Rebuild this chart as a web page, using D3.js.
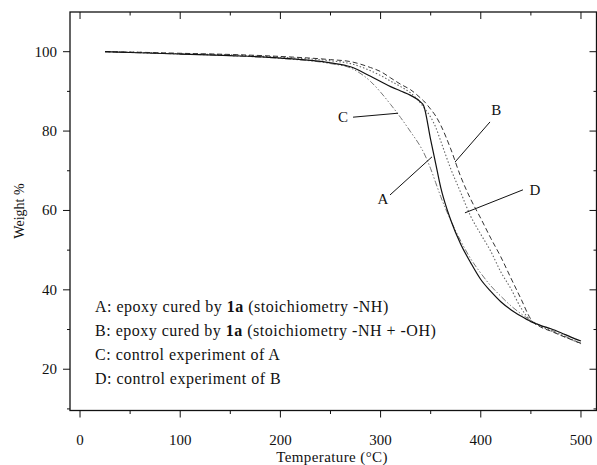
<!DOCTYPE html>
<html lang="en">
<head>
    <meta charset="UTF-8">
    <title>TGA curves</title>
    <script src="https://d3js.org/d3.v7.min.js"></script>
    <style>
        body { margin: 0; background: #fff; }
        text { font-family: "Liberation Serif", "DejaVu Serif", serif; fill: #111; }
    </style>
</head>
<body>
    <script>
        //SVG dimensions
        var w = 597;
        var h = 465;

        //Temperatures (deg C) shared by all four curves
        var temps = [25, 50, 100, 150, 200, 250, 270, 290, 300, 310, 320, 330, 340, 343, 350, 355, 360, 370, 380, 390, 400, 410, 420, 430, 440, 450, 460, 470, 480, 490, 500];

        //Weight % for each sample
        var seriesA = [100, 99.8, 99.4, 99.0, 98.4, 97.2, 96.2, 93.8, 92.5, 91.2, 90.1, 89.0, 87.3, 86.4, 77.8, 71.8, 65.8, 57.6, 51.5, 46.8, 42.6, 39.6, 37.0, 35.0, 33.4, 32.0, 31.0, 30.2, 29.2, 28.1, 27.1];
        var seriesB = [100, 99.9, 99.6, 99.3, 98.8, 98.0, 97.5, 96.0, 95.0, 93.4, 91.8, 90.4, 88.3, 87.6, 85.5, 83.8, 81.5, 75.5, 68.5, 62.8, 58.0, 53.0, 48.3, 43.0, 37.8, 32.6, 30.6, 29.6, 28.5, 27.5, 26.5];
        var seriesC = [100, 99.8, 99.4, 99.0, 98.3, 97.0, 95.9, 92.5, 89.8, 86.7, 83.4, 79.8, 76.0, 74.6, 70.5, 67.0, 63.5, 57.5, 52.3, 47.8, 44.2, 41.0, 38.4, 36.0, 34.0, 32.3, 31.0, 29.9, 28.8, 27.6, 26.6];
        var seriesD = [100, 99.9, 99.5, 99.2, 98.6, 97.7, 97.0, 95.2, 94.0, 92.6, 91.2, 89.6, 87.0, 86.0, 83.5, 81.0, 77.5, 70.5, 64.5, 58.5, 54.0, 49.7, 44.5, 40.3, 35.5, 32.2, 30.8, 29.7, 28.6, 27.5, 26.4];

        //Axis ticks
        var xMajor = [0, 100, 200, 300, 400, 500];
        var xMinor = [50, 150, 250, 350, 450];
        var yMajor = [20, 40, 60, 80, 100];
        var yMinor = [10, 30, 50, 70, 90];

        //Curve labels and their leader lines, in data units [temp, weight]
        var labelNames = ["A", "B", "C", "D"];
        var labelPos = [[302.4, 62.9], [415.4, 85.3], [262.5, 83.5], [454.1, 65.2]];
        var leaderFrom = [[309.4, 63.9], [409.2, 82.3], [272.5, 83.5], [442.1, 65.2]];
        var leaderTo = [[351.3, 73.5], [374.3, 72.2], [317.4, 84.5], [384.2, 59.4]];

        //Legend lines
        var legendKeys = ["A: ", "B: ", "C: ", "D: "];
        var legendText = [
            ["epoxy cured by ", "1a", " (stoichiometry -NH)"],
            ["epoxy cured by ", "1a", " (stoichiometry -NH + -OH)"],
            ["control experiment of A"],
            ["control experiment of B"]
        ];

        var svg = d3.select("body")
            .append("svg")
            .attr("width", w)
            .attr("height", h);

        //Plot frame edges
        var plotLeft = 70, plotRight = 596.5, plotTop = 12, plotBottom = 410.5;

        var xScale = d3.scaleLinear()
            .domain([-10, 515.5])
            .range([plotLeft, plotRight]);

        var yScale = d3.scaleLinear()
            .domain([9.6, 110])
            .range([plotBottom, plotTop]);

        //Frame
        svg.append("rect")
            .attr("x", plotLeft)
            .attr("y", plotTop)
            .attr("width", plotRight - plotLeft)
            .attr("height", plotBottom - plotTop)
            .attr("fill", "none")
            .attr("stroke", "#111")
            .attr("stroke-width", 1.3);

        //Bottom axis: ticks point out, top: ticks point in
        function xTicks(vals, len) {
            svg.append("g").selectAll("line")
                .data(vals).enter().append("line")
                .attr("x1", function(d) { return xScale(d); })
                .attr("x2", function(d) { return xScale(d); })
                .attr("y1", plotBottom)
                .attr("y2", plotBottom + len)
                .attr("stroke", "#111");
            svg.append("g").selectAll("line")
                .data(vals).enter().append("line")
                .attr("x1", function(d) { return xScale(d); })
                .attr("x2", function(d) { return xScale(d); })
                .attr("y1", plotTop)
                .attr("y2", plotTop + len)
                .attr("stroke", "#111");
        }
        xTicks(xMajor, 7);
        xTicks(xMinor, 3.5);

        //Left axis: ticks point out, right: ticks point in
        function yTicks(vals, len) {
            svg.append("g").selectAll("line")
                .data(vals).enter().append("line")
                .attr("x1", plotLeft - len)
                .attr("x2", plotLeft)
                .attr("y1", function(d) { return yScale(d); })
                .attr("y2", function(d) { return yScale(d); })
                .attr("stroke", "#111");
            svg.append("g").selectAll("line")
                .data(vals).enter().append("line")
                .attr("x1", plotRight - len)
                .attr("x2", plotRight)
                .attr("y1", function(d) { return yScale(d); })
                .attr("y2", function(d) { return yScale(d); })
                .attr("stroke", "#111");
        }
        yTicks(yMajor, 7);
        yTicks(yMinor, 3);

        //Tick labels
        svg.append("g").selectAll("text")
            .data(xMajor).enter().append("text")
            .attr("x", function(d) { return xScale(d); })
            .attr("y", 445)
            .attr("text-anchor", "middle")
            .style("font-size", "15px")
            .text(function(d) { return d; });

        svg.append("g").selectAll("text")
            .data(yMajor).enter().append("text")
            .attr("x", 57)
            .attr("y", function(d) { return yScale(d) + 5; })
            .attr("text-anchor", "end")
            .style("font-size", "15px")
            .text(function(d) { return d; });

        //Axis titles
        svg.append("text")
            .attr("x", 332)
            .attr("y", 462)
            .attr("text-anchor", "middle")
            .style("font-size", "15px")
            .style("letter-spacing", "0.4px")
            .text("Temperature (°C)");

        svg.append("text")
            .attr("transform", "translate(24,211) rotate(-90)")
            .attr("text-anchor", "middle")
            .style("font-size", "14px")
            .text("Weight %");

        //Curves
        var line = d3.line()
            .x(function(d, i) { return xScale(temps[i]); })
            .y(function(d) { return yScale(d); })
            .curve(d3.curveMonotoneX);

        var curves = [
            { values: seriesC, color: "#777", dash: "6,2,1.5,2,1.5,2", width: 1 },
            { values: seriesD, color: "#666", dash: "1.5,2", width: 1.1 },
            { values: seriesB, color: "#333", dash: "5,3", width: 1 },
            { values: seriesA, color: "#111", dash: null, width: 1.2 }
        ];

        svg.selectAll("path.curve")
            .data(curves).enter().append("path")
            .attr("class", "curve")
            .attr("d", function(d) { return line(d.values); })
            .attr("fill", "none")
            .attr("stroke", function(d) { return d.color; })
            .attr("stroke-width", function(d) { return d.width; })
            .attr("stroke-dasharray", function(d) { return d.dash; });

        //Leader lines and curve letters
        svg.append("g").selectAll("line")
            .data(leaderFrom).enter().append("line")
            .attr("x1", function(d) { return xScale(d[0]); })
            .attr("y1", function(d) { return yScale(d[1]); })
            .attr("x2", function(d, i) { return xScale(leaderTo[i][0]); })
            .attr("y2", function(d, i) { return yScale(leaderTo[i][1]); })
            .attr("stroke", "#111")
            .attr("stroke-width", 1);

        svg.append("g").selectAll("text")
            .data(labelPos).enter().append("text")
            .attr("x", function(d) { return xScale(d[0]); })
            .attr("y", function(d) { return yScale(d[1]) + 5; })
            .attr("text-anchor", "middle")
            .style("font-size", "15px")
            .text(function(d, i) { return labelNames[i]; });

        //Legend
        var legend = svg.append("g").selectAll("text")
            .data(legendText).enter().append("text")
            .attr("x", 95)
            .attr("y", function(d, i) { return 312 + i * 24; })
            .style("font-size", "16px")
            .style("letter-spacing", "0.5px");

        legend.append("tspan")
            .text(function(d, i) { return legendKeys[i]; });

        legend.each(function(d) {
            var t = d3.select(this);
            d.forEach(function(part, j) {
                t.append("tspan")
                    .style("font-weight", j == 1 ? "bold" : "normal")
                    .text(part);
            });
        });
    </script>
</body>
</html>
